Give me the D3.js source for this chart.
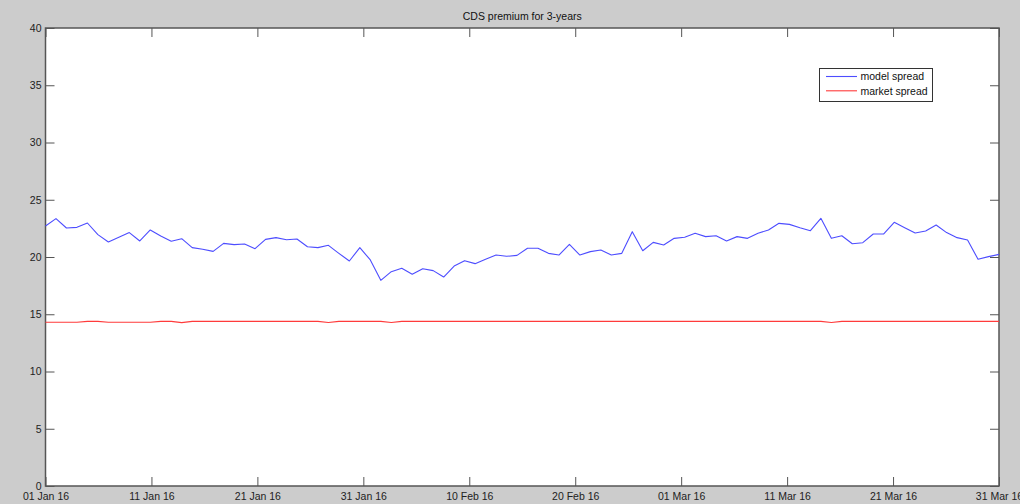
<!DOCTYPE html>
<html>
<head>
<meta charset="utf-8">
<script src="https://cdn.jsdelivr.net/npm/d3@7"></script>
<style>
  html, body { margin: 0; padding: 0; background: #cccccc; }
  svg { display: block; }
  text { font-family: "Liberation Sans", Arial, sans-serif; }
</style>
</head>
<body>
<svg id="chart" width="1020" height="504"></svg>
<script>
const chartTitle = "CDS premium for 3-years";
const seriesNames = ["model spread", "market spread"];
const startDate = "2016-01-01";
const endDate = "2016-03-31";
const xTickDates = ["2016-01-01","2016-01-11","2016-01-21","2016-01-31","2016-02-10","2016-02-20","2016-03-01","2016-03-11","2016-03-21","2016-03-31"];
const yTicks = [0, 5, 10, 15, 20, 25, 30, 35, 40];

const modelSpread = [
  22.71, 23.35, 22.53, 22.59, 22.97, 21.95, 21.31, 21.72, 22.13, 21.40,
  22.36, 21.83, 21.37, 21.60, 20.82, 20.67, 20.49, 21.19, 21.08, 21.14,
  20.73, 21.54, 21.69, 21.51, 21.57, 20.90, 20.82, 21.02, 20.32, 19.65,
  20.82, 19.74, 17.96, 18.72, 19.01, 18.49, 18.98, 18.81, 18.25, 19.21,
  19.68, 19.42, 19.80, 20.17, 20.06, 20.14, 20.76, 20.76, 20.32, 20.17,
  21.11, 20.17, 20.47, 20.61, 20.17, 20.32, 22.21, 20.55, 21.28, 21.05,
  21.63, 21.72, 22.07, 21.78, 21.86, 21.40, 21.78, 21.63, 22.07, 22.36,
  22.94, 22.85, 22.56, 22.30, 23.38, 21.63, 21.86, 21.16, 21.25, 22.01,
  22.01, 23.03, 22.56, 22.10, 22.27, 22.79, 22.13, 21.69, 21.48, 19.80,
  20.03, 20.23
];
const marketSpread = [
  14.30, 14.30, 14.30, 14.30, 14.38, 14.38, 14.30, 14.30, 14.30, 14.30,
  14.30, 14.38, 14.38, 14.27, 14.38, 14.38, 14.38, 14.38, 14.38, 14.38,
  14.38, 14.38, 14.38, 14.38, 14.38, 14.38, 14.38, 14.28, 14.38, 14.38,
  14.38, 14.38, 14.38, 14.28, 14.38, 14.38, 14.38, 14.38, 14.38, 14.38,
  14.38, 14.38, 14.38, 14.38, 14.38, 14.38, 14.38, 14.38, 14.38, 14.38,
  14.38, 14.38, 14.38, 14.38, 14.38, 14.38, 14.38, 14.38, 14.38, 14.38,
  14.38, 14.38, 14.38, 14.38, 14.38, 14.38, 14.38, 14.38, 14.38, 14.38,
  14.38, 14.38, 14.38, 14.38, 14.38, 14.28, 14.38, 14.38, 14.38, 14.38,
  14.38, 14.38, 14.38, 14.38, 14.38, 14.38, 14.38, 14.38, 14.38, 14.38,
  14.38, 14.38
];

const colors = ["#4d4dff", "#ff3b3b"];
const L = 45.5, R = 999, T = 28, B = 486;
const tickLen = 9;
const fontSize = "10.5px";

const svg = d3.select("#chart");
const parse = d3.utcParse("%Y-%m-%d");
const fmt = d3.utcFormat("%d %b %y");

const xTime = d3.scaleUtc().domain([parse(startDate), parse(endDate)]).range([L, R]);
const xIdx = d3.scaleLinear().domain([0, modelSpread.length - 1]).range([L, R]);
const y = d3.scaleLinear().domain([0, 40]).range([B, T]);

// plot background
svg.append("rect").attr("x", L).attr("y", T).attr("width", R - L).attr("height", B - T).attr("fill", "#ffffff");

// title
svg.append("text").attr("x", (L + R) / 2).attr("y", 20).attr("text-anchor", "middle")
  .attr("font-size", fontSize).attr("fill", "#111").text(chartTitle);

const tickDates = xTickDates.map(parse);

// axes
const axisColor = "#555";
function styleAxis(g, showLabels) {
  g.select(".domain").remove();
  g.selectAll(".tick line").attr("stroke", axisColor).attr("stroke-width", 1);
  g.selectAll(".tick text").attr("font-size", fontSize).attr("fill", "#222")
    .attr("font-family", "'Liberation Sans', Arial, sans-serif");
  if (!showLabels) g.selectAll(".tick text").remove();
}

const xBottom = svg.append("g").attr("transform", `translate(0,${B})`)
  .call(d3.axisBottom(xTime).tickValues(tickDates).tickFormat(fmt).tickSizeInner(-tickLen).tickSizeOuter(0).tickPadding(5));
styleAxis(xBottom, true);
xBottom.selectAll(".tick text").attr("dy", null).attr("y", 14);

const xTop = svg.append("g").attr("transform", `translate(0,${T})`)
  .call(d3.axisTop(xTime).tickValues(tickDates).tickSizeInner(-tickLen).tickSizeOuter(0));
styleAxis(xTop, false);

const yLeft = svg.append("g").attr("transform", `translate(${L},0)`)
  .call(d3.axisLeft(y).tickValues(yTicks).tickSizeInner(-tickLen).tickSizeOuter(0).tickPadding(4));
styleAxis(yLeft, true);
yLeft.selectAll(".tick text").attr("x", -4);

const yRight = svg.append("g").attr("transform", `translate(${R},0)`)
  .call(d3.axisRight(y).tickValues(yTicks).tickSizeInner(-tickLen).tickSizeOuter(0));
styleAxis(yRight, false);

// box
svg.append("rect").attr("x", L).attr("y", T).attr("width", R - L).attr("height", B - T)
  .attr("fill", "none").attr("stroke", axisColor).attr("stroke-width", 1.5);

// lines
const series = [modelSpread, marketSpread];
const line = d3.line().x((d, i) => xIdx(i)).y(d => y(d));
series.forEach((s, k) => {
  svg.append("path").datum(s).attr("d", line).attr("fill", "none")
    .attr("stroke", colors[k]).attr("stroke-width", 1.1).attr("stroke-linejoin", "round");
});

// legend
const lg = svg.append("g");
lg.append("rect").attr("x", 819.5).attr("y", 68.5).attr("width", 113).attr("height", 33)
  .attr("fill", "#fff").attr("stroke", "#333").attr("stroke-width", 1);
seriesNames.forEach((n, k) => {
  const yy = 76.5 + k * 14.3;
  lg.append("line").attr("x1", 826).attr("x2", 857).attr("y1", yy).attr("y2", yy)
    .attr("stroke", colors[k]).attr("stroke-width", 1.1);
  lg.append("text").attr("x", 860.5).attr("y", yy + 3.8).attr("font-size", fontSize)
    .attr("fill", "#111").text(n);
});
</script>
</body>
</html>
